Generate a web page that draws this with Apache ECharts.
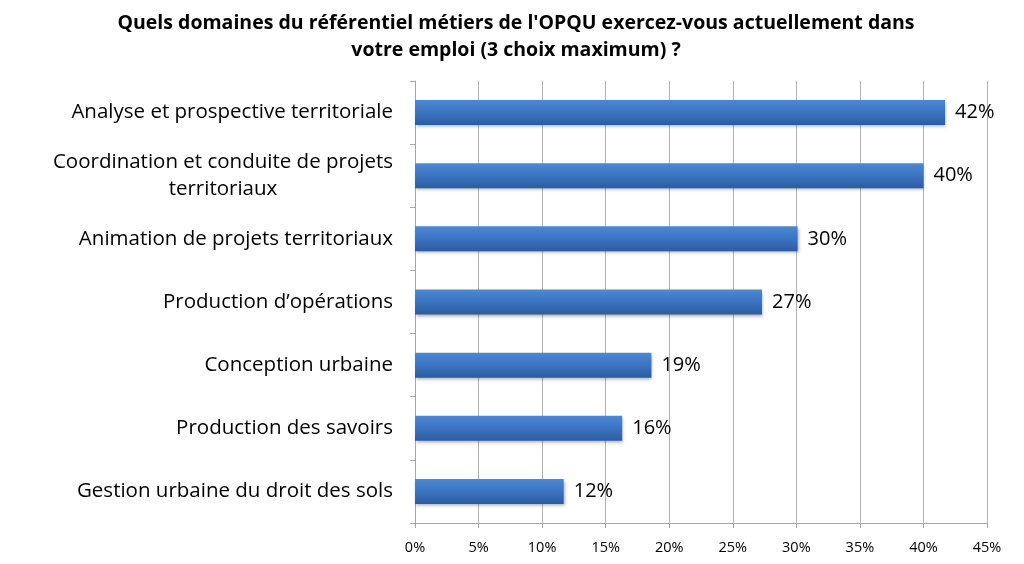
<!DOCTYPE html>
<html><head><meta charset="utf-8">
<script src="https://cdn.jsdelivr.net/npm/echarts@6/dist/echarts.min.js"></script>
<style>html,body{margin:0;padding:0;background:#fff}#c{width:1024px;height:564px}</style>
</head><body><div id="c"></div>
<script>
var categories = [
  "Analyse et prospective territoriale",
  "Coordination et conduite de projets\nterritoriaux",
  "Animation de projets territoriaux",
  "Production d\u2019op\u00e9rations",
  "Conception urbaine",
  "Production des savoirs",
  "Gestion urbaine du droit des sols"
];
var values = [41.7, 40.0, 30.1, 27.3, 18.6, 16.3, 11.7];
var valueLabels = ["42%", "40%", "30%", "27%", "19%", "16%", "12%"];
var xTicks = [0, 5, 10, 15, 20, 25, 30, 35, 40, 45];
var titleText = "Quels domaines du r\u00e9f\u00e9rentiel m\u00e9tiers de l'OPQU exercez-vous actuellement dans\nvotre emploi (3 choix maximum) ?";

var FONT = "Open Sans";
var chart = echarts.init(document.getElementById('c'));
chart.setOption({
  animation: false,
  backgroundColor: '#fff',
  title: {
    text: titleText,
    left: 511, top: 5, textAlign: 'center',
    textStyle: { fontFamily: FONT, fontWeight: 'bold', fontSize: 19.5, color: '#000', lineHeight: 27 }
  },
  grid: { left: 415, right: 37, top: 81, bottom: 41, containLabel: false },
  xAxis: {
    type: 'value', min: 0, max: 45, interval: 5,
    axisLine: { show: true, lineStyle: { color: '#a6a6a6', width: 1 } },
    axisTick: { show: true, length: 5, lineStyle: { color: '#a6a6a6' } },
    splitLine: { show: true, lineStyle: { color: '#b3b3b3', width: 1 } },
    axisLabel: { fontFamily: FONT, fontSize: 14.5, color: '#000', margin: 17,
      formatter: function (v) { return xTicks.indexOf(v) >= 0 ? v + '%' : ''; } }
  },
  yAxis: {
    type: 'category', data: categories, inverse: true,
    axisLine: { show: true, lineStyle: { color: '#a6a6a6', width: 1 } },
    axisTick: { show: true, length: 5, lineStyle: { color: '#a6a6a6' } },
    splitLine: { show: false },
    axisLabel: {
      fontFamily: FONT, fontSize: 20.5, color: '#000', margin: 22, align: 'right', lineHeight: 27,
      formatter: function (v) {
        if (v.indexOf('\n') >= 0) {
          return v.split('\n').map(function (s) { return '{c|' + s + '}'; }).join('\n');
        }
        return v;
      },
      rich: { c: { align: 'center', fontFamily: FONT, fontSize: 20.5, color: '#000', lineHeight: 27 } }
    }
  },
  series: [{
    type: 'bar', data: values, barWidth: 25,
    itemStyle: {
      color: new echarts.graphic.LinearGradient(0, 0, 0, 1, [
        { offset: 0, color: '#4d88d3' },
        { offset: 0.5, color: '#3b74c2' },
        { offset: 1, color: '#2c5c9e' }
      ]),
      shadowColor: 'rgba(0,0,0,0.3)', shadowBlur: 3, shadowOffsetX: 1, shadowOffsetY: 2
    },
    label: {
      show: true, position: 'right', distance: 10,
      fontFamily: FONT, fontSize: 20, color: '#000',
      formatter: function (p) { return valueLabels[p.dataIndex]; }
    }
  }]
});
</script></body></html>
